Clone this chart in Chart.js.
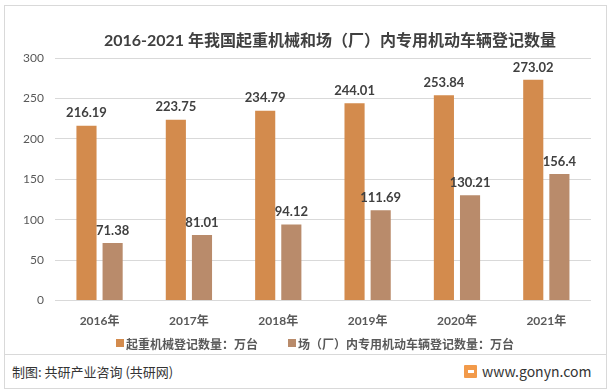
<!DOCTYPE html>
<html><head><meta charset="utf-8">
<script src="https://cdn.jsdelivr.net/npm/chart.js@4/dist/chart.umd.min.js"></script>
<style>
html,body{margin:0;padding:0;background:#fff;}
#wrap{position:relative;width:615px;height:392px;overflow:hidden;background:#fff;}
#frame{position:absolute;left:4px;top:5px;width:603px;height:384px;border:1px solid #d9d9d9;box-sizing:border-box;}
#sep{position:absolute;left:4px;top:354px;width:603px;height:1px;background:#d9d9d9;}
#cv{position:absolute;left:0;top:0;width:615px;height:354px;}
#title{position:absolute;left:0;width:660px;top:27px;text-align:center;font:bold 16px Lato,"Noto Sans CJK SC",sans-serif;color:#404040;white-space:nowrap;}
#foot{position:absolute;left:12px;top:362px;font:13px "Noto Sans CJK SC",sans-serif;color:#333;}
#site{position:absolute;left:482px;top:361px;font:14px "Noto Sans CJK SC",sans-serif;color:#333;}
#logo{position:absolute;left:464px;top:365px;width:13px;height:13px;background:#f29a4a;border-radius:1px;}
#logo:after{content:"";position:absolute;left:4px;top:5px;width:6px;height:3px;background:#fff;}
</style></head>
<body><div id="wrap">
<div id="frame"></div>
<div id="cv"><canvas id="c" width="615" height="354"></canvas></div>
<div id="sep"></div>
<div id="title"></div>
<div id="foot">制图: 共研产业咨询 (共研网)</div>
<div id="logo"></div>
<div id="site">www.gonyn.com</div>
</div>
<script>
const categories = ["2016年","2017年","2018年","2019年","2020年","2021年"];
const craneValues = [216.19, 223.75, 234.79, 244.01, 253.84, 273.02];
const vehicleValues = [71.38, 81.01, 94.12, 111.69, 130.21, 156.4];
const seriesNames = ["起重机械登记数量：万台","场（厂）内专用机动车辆登记数量：万台"];
const seriesColors = ["#D38B4D","#B98B6B"];
const titleText = "2016-2021 年我国起重机械和场（厂）内专用机动车辆登记数量";
document.getElementById('title').textContent = titleText;

const FONT = 'Lato, "Noto Sans CJK SC", sans-serif';

const labelPlugin = {
  id:'barLabels',
  afterDatasetsDraw(chart){
    const ctx = chart.ctx;
    ctx.save();
    ctx.font = 'bold 13px ' + FONT;
    ctx.fillStyle = '#404040';
    ctx.textAlign = 'center';
    ctx.textBaseline = 'bottom';
    chart.data.datasets.forEach((ds,i)=>{
      const meta = chart.getDatasetMeta(i);
      meta.data.forEach((el,j)=>{
        ctx.fillText(String(ds.data[j]), el.x, el.y - 6);
      });
    });
    ctx.restore();
  }
};

const legendPlugin = {
  id:'customLegend',
  afterDraw(chart){
    const ctx = chart.ctx;
    ctx.save();
    ctx.font = 'bold 12px "Noto Sans CJK SC", sans-serif';
    ctx.textBaseline = 'middle';
    ctx.textAlign = 'left';
    const box = 8, gapText = 2, gapItem = 30;
    const items = chart.data.datasets.map(ds=>({text:ds.label,color:ds.backgroundColor,w:box+gapText+ctx.measureText(ds.label).width}));
    const total = items.reduce((s,it)=>s+it.w,0) + gapItem*(items.length-1);
    let x = 315 - total/2;
    const y = 343;
    items.forEach(it=>{
      ctx.fillStyle = it.color;
      ctx.fillRect(x, y-4, box, box);
      ctx.fillStyle = '#595959';
      ctx.fillText(it.text, x+box+gapText, y+1);
      x += it.w + gapItem;
    });
    ctx.restore();
  }
};

new Chart(document.getElementById('c'), {
  type:'bar',
  data:{
    labels:categories,
    datasets:[
      {label:seriesNames[0], data:craneValues, backgroundColor:seriesColors[0]},
      {label:seriesNames[1], data:vehicleValues, backgroundColor:seriesColors[1]}
    ]
  },
  options:{
    responsive:false,
    animation:false,
    devicePixelRatio:1,
    layout:{padding:{left:12,right:24,top:58,bottom:21}},
    datasets:{bar:{categoryPercentage:0.585,barPercentage:0.77}},
    plugins:{
      title:{display:false},
      legend:{display:false},
      tooltip:{enabled:false}
    },
    scales:{
      x:{grid:{display:false},border:{display:false},ticks:{color:'#595959',font:{family:FONT,size:12,weight:'bold'},padding:5}},
      y:{min:0,max:300,ticks:{stepSize:50,color:'#595959',font:{family:FONT,size:12},padding:11},
         grid:{color:'#d9d9d9',drawTicks:false},border:{display:false}}
    }
  },
  plugins:[labelPlugin, legendPlugin]
});
</script>
</body></html>
